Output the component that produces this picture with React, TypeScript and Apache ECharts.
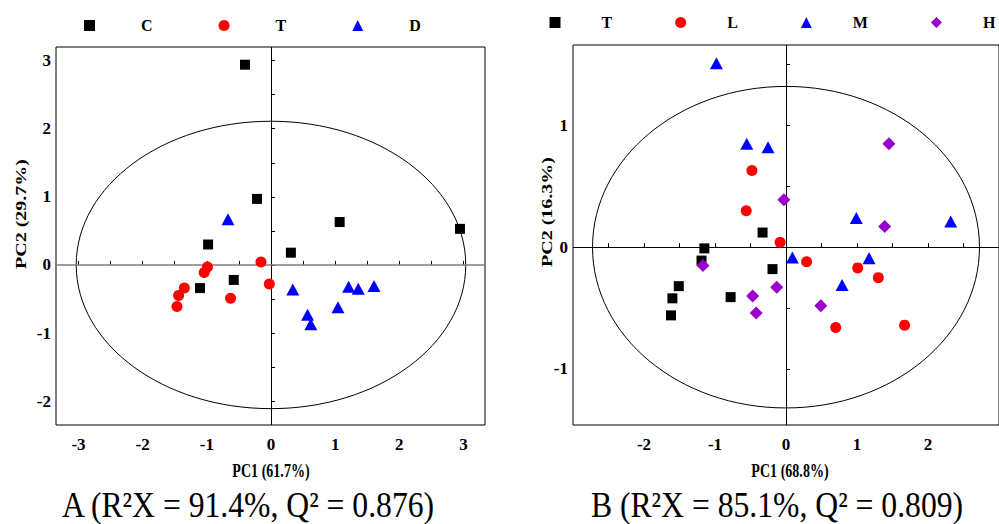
import React, { useEffect, useRef } from "react";
import * as echarts from "echarts";

// ---- Panel A data (PC1, PC2) ----
const leftC = [[-0.405, 2.94], [-0.218, 0.97], [1.07, 0.63], [2.945, 0.53], [-0.98, 0.3], [0.31, 0.18], [-0.58, -0.22], [-1.106, -0.34]];
const leftT = [[-0.156, 0.044], [-0.99, -0.03], [-1.04, -0.11], [-0.026, -0.28], [-1.35, -0.34], [-1.44, -0.45], [-0.63, -0.49], [-1.465, -0.61]];
const leftD = [[-0.67, 0.67], [0.34, -0.36], [1.21, -0.32], [1.36, -0.35], [1.605, -0.31], [1.044, -0.62], [0.57, -0.73], [0.62, -0.87]];
const leftEllipse = [[0, 0, 3.035, 2.11]];

// ---- Panel B data (PC1, PC2) ----
const rightT = [[-0.33, 0.12], [-1.15, -0.01], [-1.19, -0.11], [-0.19, -0.18], [-1.51, -0.32], [-1.6, -0.42], [-0.78, -0.41], [-1.62, -0.56]];
const rightL = [[-0.48, 0.63], [-0.56, 0.3], [-0.083, 0.04], [0.29, -0.12], [1.01, -0.17], [1.3, -0.25], [1.67, -0.64], [0.7, -0.66]];
const rightM = [[-0.98, 1.51], [-0.553, 0.85], [-0.253, 0.82], [0.99, 0.24], [2.32, 0.21], [0.09, -0.085], [1.17, -0.09], [0.79, -0.31]];
const rightH = [[1.45, 0.85], [-0.03, 0.39], [1.39, 0.17], [-1.17, -0.15], [-0.13, -0.33], [-0.47, -0.4], [0.49, -0.48], [-0.42, -0.54]];
const rightEllipse = [[0, 0, 2.725, 1.32]];

// ---- Ticks and labels ----
const leftXTicks = [-3, -2.5, -2, -1.5, -1, -0.5, 0, 0.5, 1, 1.5, 2, 2.5, 3];
const leftXLabels = [-3, -2, -1, 0, 1, 2, 3];
const leftYTicks = [-2, -1.5, -1, -0.5, 0, 0.5, 1, 1.5, 2, 2.5, 3];
const leftYLabels = [-2, -1, 0, 1, 2, 3];
const rightXTicks = [-2.5, -2, -1.5, -1, -0.5, 0, 0.5, 1, 1.5, 2, 2.5];
const rightXLabels = [-2, -1, 0, 1, 2];
const rightYTicks = [-1.5, -1, -0.5, 0, 0.5, 1, 1.5];
const rightYLabels = [-1, 0, 1];

const leftLegend = ["C", "T", "D"];
const rightLegend = ["T", "L", "M", "H"];

const FONT = "'Liberation Serif', 'Times New Roman', serif";

function axisX(gridIndex: number, min: number, max: number, ticks: number[], labels: number[]) {
  return {
    type: "value",
    gridIndex,
    min,
    max,
    axisLine: { show: false },
    axisTick: { show: true, inside: true, length: 4, lineStyle: { color: "#000" }, customValues: ticks },
    axisLabel: { customValues: labels, fontFamily: FONT, fontWeight: "bold", fontSize: 17, color: "#000", margin: 11 },
    splitLine: { show: false },
  };
}

function axisY(gridIndex: number, min: number, max: number, ticks: number[], labels: number[]) {
  return {
    type: "value",
    gridIndex,
    min,
    max,
    axisLine: { show: false },
    axisTick: { show: true, inside: true, length: 4, lineStyle: { color: "#000" }, customValues: ticks },
    axisLabel: { customValues: labels, fontFamily: FONT, fontWeight: "bold", fontSize: 17, color: "#000", margin: 5 },
    splitLine: { show: false },
  };
}

const renderEllipse = (params: any, api: any) => {
  const c = api.coord([api.value(0), api.value(1)]);
  const s = api.size([api.value(2), api.value(3)]);
  return {
    type: "ellipse",
    shape: { cx: c[0], cy: c[1], rx: s[0], ry: s[1] },
    style: { fill: "none", stroke: "#000", lineWidth: 1 },
  };
};

function scatter(name: string, idx: number, data: number[][], symbol: string, size: any, color: string) {
  return {
    type: "scatter",
    name,
    xAxisIndex: idx,
    yAxisIndex: idx,
    data,
    symbol,
    symbolSize: size,
    itemStyle: { color, opacity: 1 },
    z: 5,
  };
}

function label(text: string, x: number, y: number, size: number, bold: boolean, extra: any = {}) {
  return {
    type: "text",
    x,
    y,
    ...extra,
    style: {
      text,
      font: `${bold ? "bold " : ""}${size}px ${FONT}`,
      fill: "#000",
      align: "center",
      verticalAlign: "middle",
    },
  };
}

export default function App() {
  const ref = useRef<HTMLDivElement>(null);
  useEffect(() => {
    if (!ref.current) return;
    const chart = echarts.init(ref.current, null, { renderer: "svg" });
    const legendText = {
      fontFamily: FONT,
      fontWeight: "bold",
      fontSize: 16,
      color: "#000",
    };
    chart.setOption({
      animation: false,
      backgroundColor: "#fff",
      grid: [
        { left: 56, right: 514, top: 47, bottom: 99, show: true, borderColor: "#000", borderWidth: 1 },
        { left: 573, right: -8, top: 45, bottom: 99, show: true, borderColor: "#000", borderWidth: 1 },
      ],
      legend: [
        {
          data: leftLegend.map((n) => "A-" + n),
          formatter: (n: string) => n.slice(2),
          left: 84,
          top: 17.5,
          padding: 0,
          width: 400,
          itemWidth: 11,
          itemHeight: 11,
          itemGap: 66,
          textStyle: { ...legendText, padding: [0, 0, 0, 41] },
          selectedMode: false,
        },
        {
          data: rightLegend.map((n) => "B-" + n),
          formatter: (n: string) => n.slice(2),
          left: 549.5,
          top: 14.5,
          padding: 0,
          width: 470,
          itemWidth: 11,
          itemHeight: 11,
          itemGap: 63,
          textStyle: { ...legendText, padding: [0, 0, 0, 36] },
          selectedMode: false,
        },
      ],
      xAxis: [
        axisX(0, -3.35, 3.335, leftXTicks, leftXLabels),
        axisX(1, -3.0, 3.0, rightXTicks, rightXLabels),
      ],
      yAxis: [
        axisY(0, -2.35, 3.2, leftYTicks, leftYLabels),
        axisY(1, -1.46, 1.66, rightYTicks, rightYLabels),
      ],
      graphic: [
        label("PC2 (29.7%)", 21, 214, 20, true, { rotation: Math.PI / 2, scaleY: 0.75 }),
        label("PC2 (16.3%)", 547, 212, 20, true, { rotation: Math.PI / 2, scaleY: 0.75 }),
        label("PC1 (61.7%)", 271, 471, 19, true, { scaleX: 0.74 }),
        label("PC1 (68.8%)", 790, 471, 19, true, { scaleX: 0.74 }),
        label("A (R²X = 91.4%, Q² = 0.876)", 248, 505, 36, false, { scaleX: 0.88 }),
        label("B (R²X = 85.1%, Q² = 0.809)", 777, 505, 36, false, { scaleX: 0.88 }),
      ],
      series: [
        {
          type: "custom",
          name: "ellipseA",
          xAxisIndex: 0,
          yAxisIndex: 0,
          data: leftEllipse,
          renderItem: renderEllipse,
          silent: true,
          z: 1,
          markLine: {
            silent: true,
            symbol: "none",
            label: { show: false },
            data: [
              { xAxis: 0, lineStyle: { color: "#000", width: 1, type: "solid" } },
              { yAxis: 0, lineStyle: { color: "#7f7f7f", width: 1.5, type: "solid" } },
            ],
          },
        },
        {
          type: "custom",
          name: "ellipseB",
          xAxisIndex: 1,
          yAxisIndex: 1,
          data: rightEllipse,
          renderItem: renderEllipse,
          silent: true,
          z: 1,
          markLine: {
            silent: true,
            symbol: "none",
            label: { show: false },
            data: [
              { xAxis: 0, lineStyle: { color: "#000", width: 1, type: "solid" } },
              { yAxis: 0, lineStyle: { color: "#000", width: 1, type: "solid" } },
            ],
          },
        },
        scatter("A-C", 0, leftC, "rect", 10, "#000000"),
        scatter("A-T", 0, leftT, "circle", 11, "#ff0000"),
        scatter("A-D", 0, leftD, "triangle", [13, 12], "#0000ff"),
        scatter("B-T", 1, rightT, "rect", 10, "#000000"),
        scatter("B-L", 1, rightL, "circle", 11, "#ff0000"),
        scatter("B-M", 1, rightM, "triangle", [13, 12], "#0000ff"),
        scatter("B-H", 1, rightH, "diamond", 13, "#9900cc"),
      ],
    });
    return () => chart.dispose();
  }, []);
  return <div ref={ref} style={{ position: "fixed", left: 0, top: 0, width: 999, height: 524 }} />;
}
